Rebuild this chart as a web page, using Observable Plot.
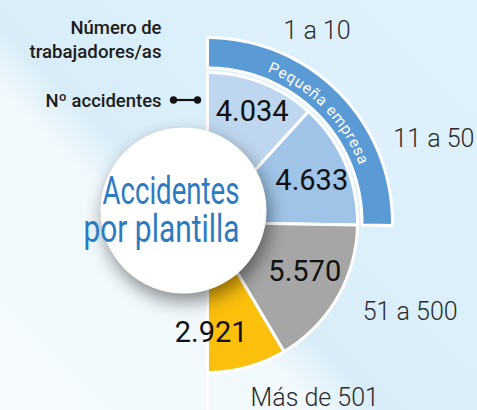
<!DOCTYPE html>
<html><head><meta charset="utf-8">
<script src="https://cdn.jsdelivr.net/npm/d3@7"></script>
<script src="https://cdn.jsdelivr.net/npm/@observablehq/plot@0.6"></script>
<style>
html,body{margin:0;padding:0;}
body{width:477px;height:410px;overflow:hidden;background:linear-gradient(45deg,#f5fbfe 0%,#f1f9fd 36%,#d9edf8 43%,#dcf0fb 62%,#e0f2fb 100%);font-family:Roboto,sans-serif;}
#chart svg{display:block;}
g[aria-label="dot"] circle{filter:drop-shadow(3px 8px 9px rgba(0,0,0,0.45));}
</style></head><body><div id="chart"></div>
<script>
// ---- data ----
const categories = ["1 a 10", "11 a 50", "51 a 500", "Más de 501"];
const accidents = [4034, 4633, 5570, 2921];
const valueLabels = ["4.034", "4.633", "5.570", "2.921"];
const groupLabel = "Pequeña empresa";
const groupMembers = ["1 a 10", "11 a 50"];
const titleLines = ["Accidentes", "por plantilla"];
const axisTitleLines = ["Número de", "trabajadores/as"];
const legendLabel = "Nº accidentes";

// ---- layout ----
const W = 477, H = 410, U = 150, CX = 207, CY = 222;
const colors = ["#bfd7ee", "#9fc4e8", "#a6a6a6", "#fbbf0d"];
const bandColor = "#5b9bd5";
const polar = (r, a) => [r * Math.sin(a), r * Math.cos(a)];
const arcPts = (r, a0, a1, n = 72) => d3.range(n + 1).map(k => polar(r, a0 + (a1 - a0) * k / n));

const pie = d3.pie().sort(null).startAngle(0).endAngle(Math.PI)(accidents);
const slices = pie.map((p, i) => ({cat: categories[i], a0: p.startAngle, a1: p.endAngle, mid: (p.startAngle + p.endAngle) / 2, label: valueLabels[i]}));

const wedgePts = slices.flatMap(s => [[0, 0], ...arcPts(1, s.a0, s.a1), [0, 0]].map(([x, y]) => ({cat: s.cat, x, y})));

const members = slices.filter(s => groupMembers.includes(s.cat));
const gA0 = d3.min(members, s => s.a0), gA1 = d3.max(members, s => s.a1);
const bandPts = [...arcPts(1.233, gA0, gA1), ...arcPts(1.03, gA1, gA0)];
bandPts.push(bandPts[0]);
const bandData = bandPts.map(([x, y]) => ({x, y}));

// value labels
const valNudge = [[4, -6], [1, 3], [0, -7], [-26, 2]];
const valData = slices.map((s, i) => { const [x, y] = polar(0.75, s.mid); return {x: x + valNudge[i][0] / U, y: y - valNudge[i][1] / U, text: s.label}; });
// category labels
const catNudge = [[30, 14], [24, 4], [12, -21], [49, -37]];
const catData = slices.map((s, i) => { const [x, y] = polar(1.47, s.mid); return {x: x + catNudge[i][0] / U, y: y - catNudge[i][1] / U, text: s.cat}; });

// arc text along the band
const fontArc = "400 15.5px Roboto";
const ctx = document.createElement("canvas").getContext("2d");
ctx.font = fontArc;
const chars = [...groupLabel];
const ls = 1.0;
const widths = chars.map(c => ctx.measureText(c).width + ls);
const total = d3.sum(widths);
const Rarc = 1.115;
let acc = 0;
const midA = (gA0 + gA1) / 2;
const arcText = chars.map((c, i) => {
  const s = acc + widths[i] / 2 - total / 2; acc += widths[i];
  const a = midA + s / (Rarc * U);
  const [x, y] = polar(Rarc, a);
  return {x, y, c, rot: a * 180 / Math.PI};
});

const circleData = [{x: -24 / U, y: 12 / U}];
const titleData = titleLines.map((t, i) => ({x: 32 / U, y: (19 - 38 * i) / U, text: t}));
const axisData = axisTitleLines.map((t, i) => ({x: -46 / U, y: (189 - 24 * i) / U, text: t}));

const plot = Plot.plot({
  width: W, height: H,
  margin: 0,
  x: {domain: [-CX / U, (W - CX) / U], axis: null},
  y: {domain: [-(H - CY) / U, CY / U], axis: null},
  color: {domain: categories, range: colors},
  style: {background: "transparent", fontFamily: "Roboto"},
  marks: [
    Plot.ruleX([0], {y1: -1, y2: -(H - CY) / U, stroke: "white", strokeWidth: 2}),
    Plot.line(wedgePts, {x: "x", y: "y", z: "cat", fill: "cat", stroke: "white", strokeWidth: 3, strokeLinejoin: "round", curve: "linear"}),
    Plot.line(bandData, {x: "x", y: "y", fill: bandColor, stroke: "white", strokeWidth: 3, strokeLinejoin: "round", curve: "linear"}),
    Plot.text(arcText, {x: "x", y: "y", text: "c", rotate: "rot", fill: "white", fontSize: 15.5, fontWeight: 400, fontFamily: "Roboto", textAnchor: "middle", lineAnchor: "middle"}),
    Plot.text(valData, {x: "x", y: "y", text: "text", fill: "#111", fontSize: 29, fontFamily: "Roboto", textAnchor: "middle", lineAnchor: "middle"}),
    Plot.text(catData, {x: "x", y: "y", text: "text", fill: "#2a2a2a", fontSize: 25, fontWeight: 300, fontFamily: "Roboto", textAnchor: "middle", lineAnchor: "middle"}),
    Plot.dot(circleData, {x: "x", y: "y", r: 83, fill: "white", stroke: null}),
    Plot.text(titleData, {x: "x", y: "y", text: "text", fill: "#2b7bc2", fontSize: 38, fontWeight: 400, fontFamily: "Roboto", textAnchor: "end", lineAnchor: "bottom"}),
    Plot.text(axisData, {x: "x", y: "y", text: "text", fill: "#1c1c1c", fontSize: 18, fontWeight: 500, fontFamily: "Roboto", textAnchor: "end", lineAnchor: "bottom"}),
    Plot.text([{x: -46 / U, y: 116 / U, text: legendLabel}], {x: "x", y: "y", text: "text", fill: "#1c1c1c", fontSize: 18, fontWeight: 500, fontFamily: "Roboto", textAnchor: "end", lineAnchor: "bottom"}),
    Plot.link([{x1: -34 / U, x2: -10 / U, y: 122.5 / U}], {x1: "x1", x2: "x2", y1: "y", y2: "y", stroke: "#111", strokeWidth: 2.2, markerStart: "dot", markerEnd: "dot"})
  ]
});
document.getElementById("chart").appendChild(plot);

// condensed lettering
const squeeze = {"Accidentes": 137, "por plantilla": 156, "Número de": 91, "trabajadores/as": 132, "Nº accidentes": 116};
d3.select(plot).selectAll("text").each(function () {
  const t = this.textContent;
  if (squeeze[t]) d3.select(this).attr("textLength", squeeze[t]).attr("lengthAdjust", "spacingAndGlyphs");
});
</script>
</body></html>
